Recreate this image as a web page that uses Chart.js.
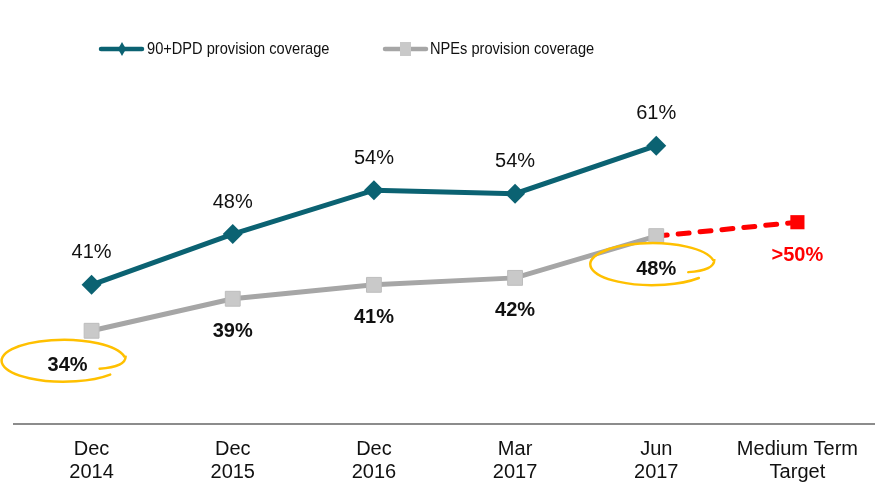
<!DOCTYPE html>
<html>
<head>
<meta charset="utf-8">
<script src="https://cdn.jsdelivr.net/npm/chart.js@4/dist/chart.umd.min.js"></script>
<style>
  html, body { margin: 0; padding: 0; background: #fff; }
  #wrap { width: 875px; height: 484px; position: relative; }
</style>
</head>
<body>
<div id="wrap"><canvas id="chart"></canvas></div>
<script>
// data
const categories = [["Dec", "2014"], ["Dec", "2015"], ["Dec", "2016"], ["Mar", "2017"], ["Jun", "2017"], ["Medium Term", "Target"]];
const dpdValues  = [41, 48.3, 54.6, 54.1, 61, null];
const dpdLabels  = ["41%", "48%", "54%", "54%", "61%", null];
const npeValues  = [34.4, 39, 41, 42, 48, null];
const npeLabels  = ["34%", "39%", "41%", "42%", "48%", null];
const targetValues = [null, null, null, null, 48, 50];
const targetLabels = [null, null, null, null, null, ">50%"];
const circled = [0, 4]; // NPE labels with a yellow loop

const TEAL = "#0b6272";
const GREY = "#a6a6a6";
const RED  = "#ff0000";
const YELLOW = "#ffc000";
const FONT = "'Liberation Sans', Arial, sans-serif";

// narrow text, like the squeezed original
function narrowText(ctx, text, x, y, sx) {
  ctx.save();
  ctx.translate(x, y);
  ctx.scale(sx, 1);
  ctx.fillText(text, 0, 0);
  ctx.restore();
}

// ============================================================
// extras: legend, value labels, loops, axis line
// ============================================================
const extras = {
  id: "extras",
  afterDatasetsDraw(chart) {
    const ctx = chart.ctx;
    const x = chart.scales.x, y = chart.scales.y;
    ctx.save();

    // axis line
    ctx.strokeStyle = "#8c8c8c";
    ctx.lineWidth = 2;
    ctx.beginPath();
    ctx.moveTo(13, chart.chartArea.bottom);
    ctx.lineTo(875, chart.chartArea.bottom);
    ctx.stroke();

    // legend
    ctx.lineWidth = 4.5;
    ctx.lineCap = "round";
    ctx.strokeStyle = TEAL;
    ctx.beginPath(); ctx.moveTo(101, 49); ctx.lineTo(142, 49); ctx.stroke();
    ctx.fillStyle = TEAL;
    ctx.beginPath();
    ctx.moveTo(122, 42); ctx.lineTo(126, 49); ctx.lineTo(122, 56); ctx.lineTo(118, 49);
    ctx.closePath(); ctx.fill();
    ctx.strokeStyle = GREY;
    ctx.beginPath(); ctx.moveTo(385, 49); ctx.lineTo(426, 49); ctx.stroke();
    ctx.fillStyle = "#c9c9c9";
    ctx.fillRect(400, 42, 11, 14);

    ctx.fillStyle = "#111";
    ctx.font = "17px " + FONT;
    ctx.textBaseline = "middle";
    ctx.textAlign = "left";
    narrowText(ctx, "90+DPD provision coverage", 147, 49, 0.86);
    narrowText(ctx, "NPEs provision coverage", 430, 49, 0.86);

    // value labels
    ctx.textAlign = "center";
    ctx.font = "20px " + FONT;
    dpdValues.forEach((v, i) => {
      if (v === null) return;
      ctx.fillText(dpdLabels[i], x.getPixelForValue(i), y.getPixelForValue(v) - 32);
    });
    ctx.font = "bold 20px " + FONT;
    npeValues.forEach((v, i) => {
      if (v === null) return;
      const lx = x.getPixelForValue(i) + (i === 0 ? -24 : 0);
      const ly = y.getPixelForValue(v) + (i === 0 ? 35 : 33);
      ctx.fillStyle = "#111";
      ctx.fillText(npeLabels[i], lx, ly);
      if (circled.includes(i)) {
        const cx = lx - 4, cy = ly - 5;
        ctx.strokeStyle = YELLOW;
        ctx.lineWidth = 2.5;
        ctx.beginPath();
        ctx.moveTo(cx + 36, cy + 8);
        ctx.quadraticCurveTo(cx + 62, cy + 6, cx + 62, cy - 4);
        ctx.ellipse(cx, cy, 62, 21, 0, -0.2, 0.72 - Math.PI * 2, true);
        ctx.stroke();
      }
    });
    ctx.fillStyle = RED;
    targetValues.forEach((v, i) => {
      if (v === null || !targetLabels[i]) return;
      ctx.fillText(targetLabels[i], x.getPixelForValue(i), y.getPixelForValue(v) + 33);
    });
    ctx.restore();
  }
};

new Chart(document.getElementById("chart"), {
  type: "line",
  data: {
    labels: categories,
    datasets: [
      {
        label: "Target",
        data: targetValues,
        borderColor: RED,
        borderWidth: 5,
        borderDash: [11, 11],
        borderCapStyle: "round",
        pointStyle: "rect",
        pointRadius: targetValues.map((v, i) => i === 5 ? 10 : 0),
        pointBackgroundColor: RED,
        pointBorderWidth: 0,
        spanGaps: false,
        order: 3
      },
      {
        label: "NPEs provision coverage",
        data: npeValues,
        borderColor: GREY,
        borderWidth: 5,
        pointStyle: "rect",
        pointRadius: 10.5,
        pointBackgroundColor: "#c9c9c9",
        pointBorderColor: "#bdbdbd",
        pointBorderWidth: 1,
        order: 2
      },
      {
        label: "90+DPD provision coverage",
        data: dpdValues,
        borderColor: TEAL,
        borderWidth: 5,
        pointStyle: "rectRot",
        pointRadius: 10,
        pointBackgroundColor: TEAL,
        pointBorderWidth: 0,
        order: 1
      }
    ]
  },
  options: {
    responsive: true,
    maintainAspectRatio: false,
    animation: false,
    layout: { autoPadding: false, padding: { top: 90, left: 21, right: 7, bottom: 0 } },
    plugins: {
      legend: { display: false },
      tooltip: { enabled: false }
    },
    scales: {
      x: {
        offset: true,
        grid: { display: false, drawTicks: false },
        border: { display: false },
        afterFit: (scale) => {
          scale.height = 60;
          scale.paddingLeft = 0;
          scale.paddingRight = 0;
        },
        ticks: {
          color: "#111",
          font: { family: FONT, size: 20, lineHeight: 1.15 },
          padding: 14,
          maxRotation: 0
        }
      },
      y: {
        display: false,
        min: 21,
        max: 69
      }
    }
  },
  plugins: [extras]
});
</script>
</body>
</html>
